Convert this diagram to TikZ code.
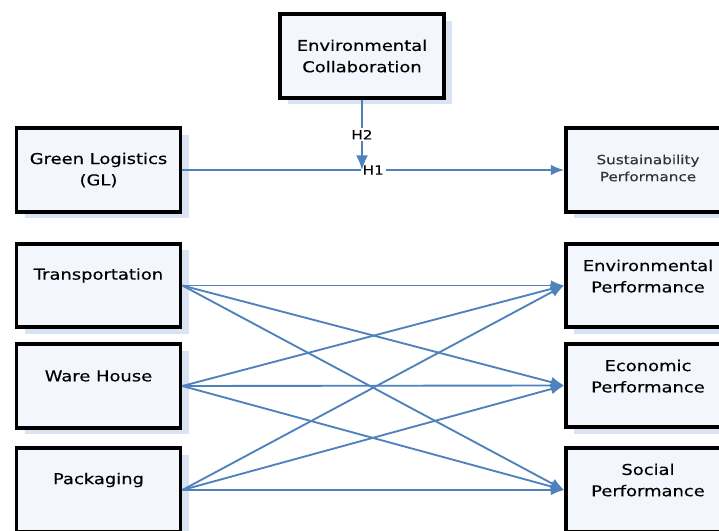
\documentclass[tikz,border=0pt]{standalone}
\usepackage{fontspec}
\setmainfont[FakeStretch=1.2,FakeBold=0.3]{DejaVu Sans}
\usetikzlibrary{arrows.meta,shadows}
\definecolor{linkblue}{RGB}{79,129,189}
\definecolor{shadeblue}{RGB}{218,227,241}
\definecolor{boxfill}{RGB}{243,246,252}
\tikzset{
  box/.style={draw=black,line width=2.8pt,fill=boxfill,minimum width=123pt,minimum height=62.5pt,inner sep=0pt,
    drop shadow={shadow xshift=6pt,shadow yshift=-5pt,fill=shadeblue,opacity=1}},
  boxtext/.style={align=center,font=\fontsize{11.2}{16}\selectfont,inner sep=0pt},
  link/.style={draw=linkblue,line width=1.4pt,-{Latex[length=10pt,width=8pt]}},
  hyp/.style={fill=white,inner sep=1.5pt,font=\fontsize{9.5}{11}\selectfont}
}
\begin{document}
\begin{tikzpicture}[x=0.75pt,y=-0.75pt]
                \useasboundingbox (0,0) rectangle (719,531);
                \clip (0,0) rectangle (719,531);
                % boxes
                \node[box] (ec) at (362,56) {};
                \node[box] (gl) at (98.5,170) {};
                \node[box] (sp) at (648,170) {};
                \node[box] (tr) at (98.5,285.5) {};
                \node[box] (wh) at (98.5,386) {};
                \node[box] (pk) at (98.5,490) {};
                \node[box] (ep) at (648,285.5) {};
                \node[box] (eco) at (648,385.5) {};
                \node[box] (so) at (648,490) {};
                % texts
                \node[boxtext] (ect) at (ec.center) {Environmental\\Collaboration};
                \node[boxtext] (glt) at (gl.center) {Green Logistics\\(GL)};
                \node[boxtext,font=\fontsize{9.5}{12.75}\selectfont,text=black!80] (spt) at ([yshift=1.5pt]sp.center) {Sustainability\\Performance};
                \node[boxtext] (trt) at ([yshift=7.5pt]tr.center) {Transportation};
                \node[boxtext] (wht) at ([yshift=7.5pt]wh.center) {Ware House};
                \node[boxtext] (pkt) at ([yshift=7.5pt]pk.center) {Packaging};
                \node[boxtext] (ept) at ([yshift=7pt]ep.center) {Environmental\\Performance};
                \node[boxtext] (ecot) at ([yshift=7pt]eco.center) {Economic\\Performance};
                \node[boxtext] (sot) at ([yshift=7.5pt]so.center) {Social\\Performance};
                % links
                \draw[link] (tr.east) -- (ep.west);
                \draw[link] (tr.east) -- (eco.west);
                \draw[link] (tr.east) -- (so.west);
                \draw[link] (wh.east) -- (ep.west);
                \draw[link] (wh.east) -- (eco.west);
                \draw[link] (wh.east) -- (so.west);
                \draw[link] (pk.east) -- (ep.west);
                \draw[link] (pk.east) -- (eco.west);
                \draw[link] (pk.east) -- (so.west);
                % hypotheses
                \draw[link] (gl.east) -- (sp.west) node[hyp,pos=0.5] (h1) {H1};
                \coordinate (h2end) at (ec.south |- gl.east);
                \draw[link,-{Latex[length=11pt,width=9pt]}] (ec.south) -- (h2end) node[hyp,midway] (h2) {H2};
            \end{tikzpicture}
\end{document}
